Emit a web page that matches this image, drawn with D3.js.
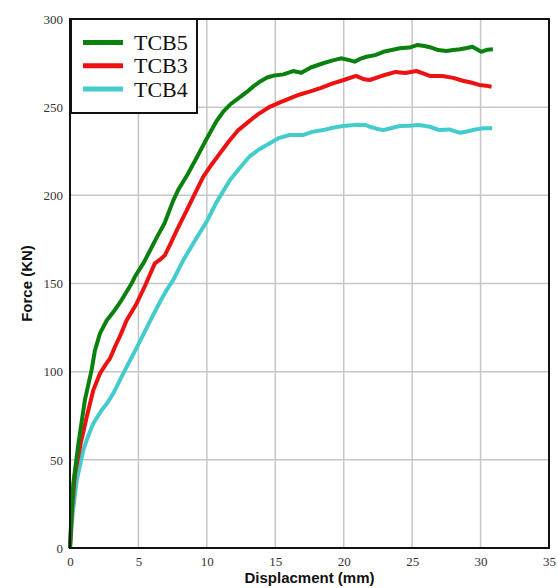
<!DOCTYPE html>
<html>
<head>
<meta charset="utf-8">
<script src="https://cdn.jsdelivr.net/npm/d3@7"></script>
<style>
  body { margin: 0; background: #fff; }
  .tick text { font-family: "Liberation Serif", serif; font-size: 13px; fill: #333; }
  .axis-title { font-family: "Liberation Sans", Arial, sans-serif; font-weight: bold; font-size: 15px; fill: #111; }
  .legend-text { font-family: "Liberation Serif", "Times New Roman", serif; font-size: 22px; fill: #111; }
</style>
</head>
<body>
<svg id="chart"></svg>
<script>
// series names and colours
const seriesNames = ['TCB5', 'TCB3', 'TCB4'];
const seriesColors = ['#0a800f', '#ee1111', '#44cccc'];

// displacement (mm) / force (kN)
const tcb5Disp  = [0, 0.1, 0.24, 0.61, 1.09, 1.58, 1.82, 2.19, 2.68, 3.28, 3.77, 4.5, 4.74, 5.4, 6.33, 6.9, 7.54, 7.9, 8.6, 9.3, 9.98, 10.7, 11.2, 11.7, 12.3, 12.9, 13.4, 13.9, 14.4, 14.96, 15.6, 16.3, 16.9, 17.6, 18.5, 19.2, 19.8, 20.4, 20.8, 21.2, 21.66, 22.3, 22.9, 23.5, 24.1, 24.8, 25.4, 25.9, 26.3, 26.9, 27.5, 28.0, 28.5, 29.0, 29.4, 30.05, 30.5, 30.9];
const tcb5Force = [0, 18, 36.5, 59, 84, 101, 112, 121.7, 129, 135, 140.6, 150, 153.8, 162, 176, 184, 197, 203, 212, 222, 232, 242, 247.5, 251.5, 255, 258.5, 261.8, 264.6, 266.8, 268, 268.6, 270.5, 269.5, 272.5, 274.9, 276.5, 277.7, 276.7, 275.8, 277.4, 278.6, 279.5, 281.4, 282.4, 283.4, 283.8, 285.3, 284.7, 284, 282.4, 281.9, 282.4, 282.8, 283.6, 284.3, 281.4, 282.6, 282.8];

const tcb3Disp  = [0, 0.15, 0.36, 0.8, 1.22, 1.7, 2.19, 2.6, 2.92, 3.28, 3.7, 4.14, 4.87, 5.5, 6.2, 6.57, 6.93, 7.4, 7.79, 8.5, 9.1, 9.73, 10.35, 10.95, 11.6, 12.3, 12.9, 13.7, 14.6, 15.3, 16.06, 16.8, 17.5, 18.3, 19.2, 20.0, 20.9, 21.5, 21.9, 22.8, 23.8, 24.5, 25.3, 25.8, 26.3, 27.2, 28.0, 28.7, 29.3, 29.9, 30.4, 30.8];
const tcb3Force = [0, 22, 42, 60, 74.3, 89.5, 99, 104, 107.5, 114, 121, 129.2, 138.7, 149, 161.4, 163.5, 166, 173.5, 180, 191, 200.5, 210.5, 217.5, 223.8, 230.5, 237, 240.8, 245.8, 250.2, 252.6, 255, 257.2, 258.8, 260.8, 263.5, 265.4, 267.7, 265.8, 265.4, 267.8, 270, 269.4, 270.5, 269.2, 267.7, 267.7, 266.6, 265, 264, 262.6, 262.2, 261.6];

const tcb4Disp  = [0, 0.2, 0.49, 0.97, 1.3, 1.7, 2.31, 2.7, 3.16, 3.6, 4.14, 4.6, 5.1, 5.8, 6.57, 7.0, 7.54, 8.3, 9.1, 9.98, 10.7, 11.68, 12.4, 13.1, 13.8, 14.6, 15.3, 16.06, 17.0, 17.7, 18.5, 19.2, 19.95, 20.4, 21.0, 21.6, 21.9, 22.4, 22.9, 23.5, 24.1, 24.8, 25.5, 26.3, 27.0, 27.7, 28.1, 28.5, 29.0, 29.4, 30.2, 30.85];
const tcb4Force = [0, 20, 38.4, 55.4, 63, 70.6, 78.1, 82, 87.6, 94.5, 102.7, 109.5, 117, 128, 139.5, 145.5, 152, 163.5, 174, 185, 196, 208.6, 215.5, 221.9, 226, 229.5, 232.6, 234.2, 234.2, 236, 237, 238.3, 239.3, 239.6, 240, 239.9, 238.9, 237.8, 237, 238.2, 239.3, 239.5, 239.9, 238.9, 237, 237.4, 236.4, 235.5, 236.2, 237, 238, 238];

const xTicks = [0, 5, 10, 15, 20, 25, 30, 35];
const yTicks = [0, 50, 100, 150, 200, 250, 300];

const width = 558, height = 588;
const margin = {top: 19, right: 9, bottom: 40, left: 70};
const innerW = width - margin.left - margin.right;
const innerH = height - margin.top - margin.bottom;

const svg = d3.select('#chart')
    .attr('width', width)
    .attr('height', height);

const x = d3.scaleLinear().domain([0, 35]).range([0, innerW]);
const y = d3.scaleLinear().domain([0, 300]).range([innerH, 0]);

const g = svg.append('g')
    .attr('transform', `translate(${margin.left},${margin.top})`);

// grid
g.append('g')
    .selectAll('line')
    .data(xTicks.slice(1, -1))
    .join('line')
    .attr('x1', d => x(d)).attr('x2', d => x(d))
    .attr('y1', 0).attr('y2', innerH)
    .attr('stroke', '#c6c6c6').attr('stroke-width', 1.5);

g.append('g')
    .selectAll('line')
    .data(yTicks.slice(1, -1))
    .join('line')
    .attr('x1', 0).attr('x2', innerW)
    .attr('y1', d => y(d)).attr('y2', d => y(d))
    .attr('stroke', '#c6c6c6').attr('stroke-width', 1.5);

// axes (labels only, frame drawn separately)
const xAxis = d3.axisBottom(x).tickValues(xTicks).tickSize(0).tickPadding(9);
const yAxis = d3.axisLeft(y).tickValues(yTicks).tickSize(0).tickPadding(7);

g.append('g')
    .attr('transform', `translate(0,${innerH})`)
    .call(xAxis)
    .call(a => a.select('.domain').remove());

g.append('g')
    .call(yAxis)
    .call(a => a.select('.domain').remove());

// lines
const seriesData = [
    tcb5Disp.map((d, i) => [d, tcb5Force[i]]),
    tcb3Disp.map((d, i) => [d, tcb3Force[i]]),
    tcb4Disp.map((d, i) => [d, tcb4Force[i]])
];

const line = d3.line()
    .x(d => x(d[0]))
    .y(d => y(d[1]));

// draw TCB4 first so green ends on top like the reference
[2, 1, 0].forEach(i => {
    g.append('path')
        .datum(seriesData[i])
        .attr('fill', 'none')
        .attr('stroke', seriesColors[i])
        .attr('stroke-width', 4)
        .attr('stroke-linejoin', 'round')
        .attr('d', line);
});

// frame
g.append('rect')
    .attr('width', innerW)
    .attr('height', innerH)
    .attr('fill', 'none')
    .attr('stroke', '#111')
    .attr('stroke-width', 2);

// legend
const legend = g.append('g').attr('transform', 'translate(1,0)');
legend.append('rect')
    .attr('width', 126)
    .attr('height', 94)
    .attr('fill', '#fff')
    .attr('stroke', '#111')
    .attr('stroke-width', 2);

seriesNames.forEach((name, i) => {
    const ly = 23.5 + i * 23.3;
    legend.append('line')
        .attr('x1', 12).attr('x2', 52)
        .attr('y1', ly).attr('y2', ly)
        .attr('stroke', seriesColors[i])
        .attr('stroke-width', 5);
    legend.append('text')
        .attr('class', 'legend-text')
        .attr('x', 63)
        .attr('y', ly + 7.5)
        .text(name);
});

// axis titles
svg.append('text')
    .attr('class', 'axis-title')
    .attr('text-anchor', 'middle')
    .attr('x', margin.left + innerW / 2)
    .attr('y', 583)
    .text('Displacment (mm)');

svg.append('text')
    .attr('class', 'axis-title')
    .attr('text-anchor', 'middle')
    .attr('transform', `translate(32,${margin.top + innerH / 2}) rotate(-90)`)
    .text('Force (KN)');
</script>
</body>
</html>
